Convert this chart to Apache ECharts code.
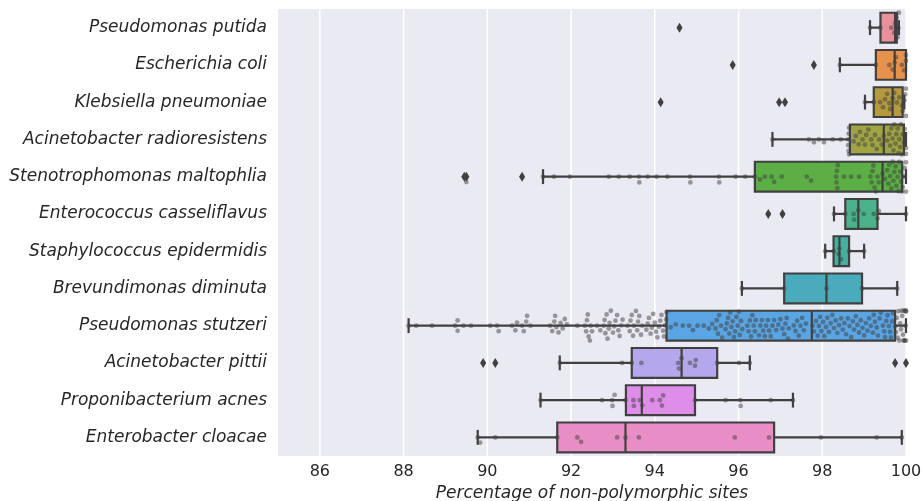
<!DOCTYPE html>
<html><head><meta charset="utf-8">
<script src="https://cdn.jsdelivr.net/npm/echarts@6/dist/echarts.min.js"></script>
<style>html,body{margin:0;padding:0;background:#fff}#c{width:922px;height:501px}</style>
</head><body><div id="c"></div>
<script>
const species = ['Pseudomonas putida','Escherichia coli','Klebsiella pneumoniae','Acinetobacter radioresistens','Stenotrophomonas maltophlia','Enterococcus casseliflavus','Staphylococcus epidermidis','Brevundimonas diminuta','Pseudomonas stutzeri','Acinetobacter pittii','Proponibacterium acnes','Enterobacter cloacae'];
const whiskerLow  = [99.14, 98.42, 99.02, 96.81, 91.33, 98.28, 98.07, 96.08, 88.12, 91.73, 91.27, 89.77];
const q1          = [99.39, 99.28, 99.23, 98.66, 96.39, 98.55, 98.27, 97.09, 94.28, 93.45, 93.31, 91.67];
const median      = [99.74, 99.73, 99.68, 99.47, 99.44, 98.86, 98.41, 98.10, 97.75, 94.64, 93.69, 93.30];
const q3          = [99.78, 100.0, 99.92, 99.95, 99.91, 99.32, 98.64, 98.95, 99.74, 95.49, 94.96, 96.85];
const whiskerHigh = [99.83, 100.0, 99.96, 100.0, 100.0, 100.0, 99.00, 99.79, 100.0, 96.27, 97.30, 99.90];
const outlierValues = [[94.59],[95.86,97.80],[94.14,96.97,97.11],[],[89.45,89.50,90.83],[96.71,97.05],[],[],[],[89.90,90.19,99.74,100.0],[],[]];
const boxColors = ['#E8909B','#E6914C','#B69A3E','#A0A442','#5CAF45','#4AB38B','#45B09F','#4AABBC','#5AA5E3','#B4A7EB','#DE8DE8','#E88EC5'];
const xTicks = [86,88,90,92,94,96,98,100];
const swarmValues = [
 [94.59, 99.14, 99.39, 99.65, 99.72, 99.74, 99.78, 99.80, 99.82, 99.83],
 [95.86, 97.80, 98.42, 99.28, 99.60, 99.68, 99.73, 99.76, 99.90, 99.95, 100, 100],
 [94.14, 96.97, 97.11, 99.02, 99.23, 99.38, 99.45, 99.50, 99.55, 99.60, 99.62, 99.68, 99.72, 99.78, 99.84, 99.90, 99.92, 99.96, 99.98, 100, 100],
 [96.81, 97.68, 97.80, 97.92, 98.04, 98.25, 98.44, 98.62, 98.62, 98.63, 98.63, 98.64, 98.64, 98.75, 98.80, 98.87, 98.90, 98.96, 99.02, 99.05, 99.10, 99.17, 99.20, 99.26, 99.30, 99.36, 99.42, 99.47, 99.55, 99.60, 99.62, 99.65, 99.68, 99.70, 99.72, 99.75, 99.77, 99.80, 99.82, 99.84, 99.86, 99.88, 99.90, 99.92, 99.95, 99.97, 100, 100],
 [89.45, 89.50, 90.83, 91.33, 91.59, 91.97, 92.90, 93.14, 93.40, 93.62, 93.63, 93.83, 94.04, 94.30, 94.84, 94.85, 95.53, 95.54, 95.93, 96.16, 96.39, 96.51, 96.63, 96.79, 96.85, 97.03, 97.63, 97.73, 98.33, 98.34, 98.35, 98.36, 98.37, 98.52, 98.69, 98.88, 99.15, 99.18, 99.20, 99.22, 99.25, 99.28, 99.32, 99.35, 99.44, 99.50, 99.55, 99.58, 99.60, 99.62, 99.65, 99.68, 99.70, 99.72, 99.75, 99.77, 99.80, 99.82, 99.84, 99.86, 99.88, 99.90, 99.92, 99.95, 99.97, 100, 100],
 [96.71, 97.05, 98.28, 98.55, 98.75, 98.76, 98.86, 98.99, 99.23, 99.32, 99.35, 100],
 [98.07, 98.27, 98.39, 98.41, 98.45, 98.64, 99.00],
 [96.08, 97.09, 98.10, 98.95, 99.79],
 [88.12, 88.30, 88.68, 89.23, 89.29, 89.29, 89.43, 89.61, 90.07, 90.23, 90.27, 90.59, 90.67, 90.71, 90.83, 90.87, 90.93, 90.95, 91.03,
  91.50, 91.55, 91.60, 91.62, 91.65, 91.70, 91.75, 91.80, 91.85, 91.90, 92.15,
  92.33, 92.36, 92.38, 92.40, 92.42, 92.45, 92.47, 92.50, 92.62, 92.70,
  92.78, 92.80, 92.82, 92.85, 92.87, 92.90, 92.92, 92.95,
  93.00, 93.03, 93.06, 93.10, 93.13, 93.16, 93.20, 93.23,
  93.35, 93.40, 93.42, 93.45, 93.48, 93.50, 93.55, 93.58, 93.60, 93.63, 93.67, 93.70,
  93.80, 93.83, 93.86, 93.90, 93.93, 93.96, 94.00, 94.03, 94.06, 94.10, 94.13, 94.16,
  94.20, 94.22, 94.25, 94.27, 94.28,
  94.38, 94.50, 94.67, 94.82, 94.91, 95.02, 95.17, 95.29, 95.37,
  95.45, 95.48, 95.51, 95.54, 95.58, 95.61,
  95.69, 95.72, 95.75, 95.78, 95.80, 95.83, 95.86, 95.89, 95.92, 95.95, 95.98, 96.01, 96.03, 96.06, 96.09,
  96.21, 96.24, 96.27, 96.30, 96.33, 96.36, 96.39, 96.41,
  96.49, 96.52, 96.56, 96.59, 96.63, 96.66, 96.70, 96.73,
  96.77, 96.81, 96.85, 96.90, 96.95, 97.00, 97.05, 97.09,
  97.12, 97.15, 97.18, 97.20,
  97.32, 97.36, 97.40, 97.44, 97.48, 97.52, 97.56, 97.61,
  97.77, 97.80, 97.85, 97.89,
  97.92, 97.95, 97.98, 98.02, 98.05, 98.09, 98.12, 98.16, 98.20, 98.24, 98.28, 98.32, 98.36, 98.40,
  98.45, 98.49, 98.53, 98.57, 98.61, 98.65, 98.69, 98.73,
  98.76, 98.80, 98.84, 98.88, 98.92, 98.96, 99.00, 99.04, 99.08, 99.12, 99.16, 99.21,
  99.23, 99.26, 99.30, 99.33, 99.37, 99.40,
  99.45, 99.48, 99.50, 99.53, 99.56, 99.59, 99.62, 99.64, 99.67, 99.69,
  99.74, 99.76, 99.78, 99.80, 99.82, 99.84, 99.86, 99.88, 99.90, 99.91, 99.93, 99.94, 99.95, 99.96, 99.97, 99.98, 99.99, 100, 100, 100],
 [89.90, 90.19, 91.73, 93.22, 93.45, 93.68, 94.56, 94.58, 94.64, 94.84, 94.96, 94.98, 95.49, 96.01, 96.27, 99.74, 100],
 [91.27, 92.74, 92.98, 92.99, 93.04, 93.30, 93.49, 93.50, 93.64, 93.70, 93.94, 94.12, 94.17, 94.20, 94.96, 95.69, 96.04, 96.05, 96.77, 97.30],
 [89.77, 89.83, 90.19, 91.67, 92.15, 92.24, 93.10, 93.30, 93.62, 95.91, 96.73, 97.97, 99.30, 99.90]
];

const EDGE = '#404040';
const FONT = 'DejaVu Sans';
const chart = echarts.init(document.getElementById('c'), null, {renderer: 'canvas'});

const boxData = species.map((s, i) => [i, whiskerLow[i], q1[i], median[i], q3[i], whiskerHigh[i]]);
const outlierData = [];
outlierValues.forEach((arr, i) => arr.forEach(v => outlierData.push([v, i])));

function swarmData(offsets) {
  const out = [];
  swarmValues.forEach((arr, i) => arr.forEach((v, j) => out.push([v, i, offsets ? offsets[i][j] : 0])));
  return out;
}

const option = {
  animation: false,
  backgroundColor: '#ffffff',
  grid: {left: 278, right: 16, top: 9, bottom: 45, show: true, backgroundColor: '#EAEAF2', borderWidth: 0,
    containLabel: false, outerBoundsMode: 'none'},
  xAxis: {
    type: 'value', min: 85, max: 100, interval: 1,
    axisLine: {show: false}, axisTick: {show: false},
    axisLabel: {fontFamily: FONT, fontSize: 16, color: '#262626', margin: 8,
      formatter: v => xTicks.indexOf(v) >= 0 ? String(v) : ''},
    splitLine: {show: false},
    name: 'Percentage of non-polymorphic sites', nameLocation: 'middle', nameGap: 29,
    nameTextStyle: {fontFamily: FONT, fontSize: 17, fontStyle: 'italic', color: '#262626'}
  },
  yAxis: {
    type: 'category', data: species, inverse: true,
    axisLine: {show: false}, axisTick: {show: false}, splitLine: {show: false},
    axisLabel: {fontFamily: FONT, fontSize: 17, fontStyle: 'italic', color: '#262626', margin: 11}
  },
  series: [
    {
      id: 'grid-lines', type: 'custom', silent: true, z: 1,
      data: xTicks.map(v => [v]),
      encode: {x: 0},
      renderItem: (params, api) => {
        const p = api.coord([api.value(0), 0]);
        const cs = params.coordSys;
        return {type: 'line', shape: {x1: p[0], y1: cs.y, x2: p[0], y2: cs.y + cs.height},
          style: {stroke: '#ffffff', lineWidth: 1.6}};
      }
    },
    {
      id: 'boxes', type: 'custom', z: 2,
      data: boxData,
      encode: {x: [1, 2, 3, 4, 5], y: 0},
      renderItem: (params, api) => {
        const ci = api.value(0);
        const lo = api.coord([api.value(1), ci]);
        const a = api.coord([api.value(2), ci]);
        const m = api.coord([api.value(3), ci]);
        const b = api.coord([api.value(4), ci]);
        const hi = api.coord([api.value(5), ci]);
        const band = api.size([0, 1])[1];
        const h = band * 0.8, cy = lo[1], cap = h / 2;
        const ls = {stroke: EDGE, lineWidth: 2.2, fill: null};
        return {type: 'group', children: [
          {type: 'line', shape: {x1: lo[0], y1: cy, x2: a[0], y2: cy}, style: ls},
          {type: 'line', shape: {x1: b[0], y1: cy, x2: hi[0], y2: cy}, style: ls},
          {type: 'line', shape: {x1: lo[0], y1: cy - cap / 2, x2: lo[0], y2: cy + cap / 2}, style: ls},
          {type: 'line', shape: {x1: hi[0], y1: cy - cap / 2, x2: hi[0], y2: cy + cap / 2}, style: ls},
          {type: 'rect', shape: {x: a[0], y: cy - h / 2, width: b[0] - a[0], height: h},
            style: {fill: boxColors[ci], stroke: EDGE, lineWidth: 2.2}},
          {type: 'line', shape: {x1: m[0], y1: cy - h / 2, x2: m[0], y2: cy + h / 2}, style: ls}
        ]};
      }
    },
    {
      id: 'outliers', type: 'scatter', z: 3,
      data: outlierData, symbol: 'diamond', symbolSize: [6, 10],
      itemStyle: {color: EDGE, opacity: 1}
    },
    {
      id: 'swarm', type: 'custom', z: 4,
      data: swarmData(null),
      encode: {x: 0, y: 1},
      renderItem: (params, api) => {
        const p = api.coord([api.value(0), api.value(1)]);
        return {type: 'circle', shape: {cx: p[0], cy: p[1] + api.value(2), r: 2.4},
          style: {fill: 'rgba(64,64,64,0.5)'}};
      }
    }
  ]
};
chart.setOption(option);

// beeswarm layout in pixel space
function swarmOffsets(pxs, d, maxW) {
  const order = pxs.map((x, i) => i).sort((a, b) => pxs[a] - pxs[b]);
  const placed = [];
  const off = new Array(pxs.length);
  for (const i of order) {
    const x = pxs[i];
    const nb = placed.filter(p => Math.abs(p.x - x) < d);
    const cands = [0];
    for (const p of nb) {
      const dy = Math.sqrt(d * d - (p.x - x) * (p.x - x));
      cands.push(p.y + dy, p.y - dy);
    }
    const idx = cands.map((c, k) => k).sort((u, w) => Math.abs(cands[u]) - Math.abs(cands[w]) || u - w);
    let y = cands[idx[idx.length - 1]];
    for (const k of idx) {
      const c = cands[k];
      if (nb.every(p => (p.x - x) * (p.x - x) + (p.y - c) * (p.y - c) >= d * d - 1e-6)) { y = c; break; }
    }
    placed.push({x, y});
    off[i] = Math.max(-maxW, Math.min(maxW, y));
  }
  return off;
}
const band = Math.abs(chart.convertToPixel({yAxisIndex: 0}, 1) - chart.convertToPixel({yAxisIndex: 0}, 0));
const offsets = swarmValues.map(arr => swarmOffsets(arr.map(v => chart.convertToPixel({xAxisIndex: 0}, v)), 5.8, band * 0.4));
chart.setOption({series: [{id: 'swarm', data: swarmData(offsets)}]});
</script>
</body></html>
